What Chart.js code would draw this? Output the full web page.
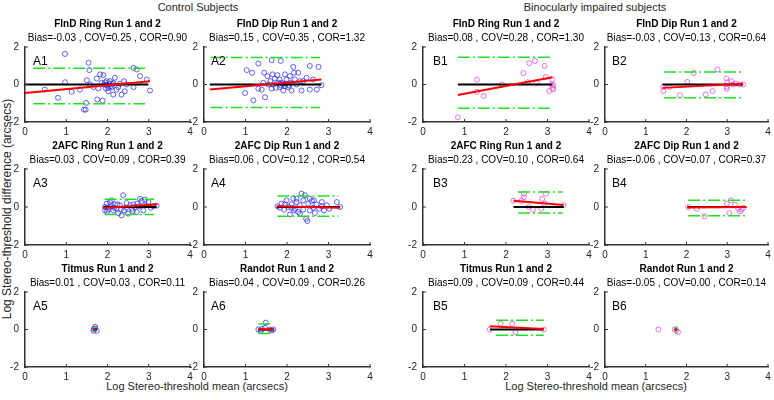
<!DOCTYPE html>
<html><head><meta charset="utf-8">
<script src="https://cdn.jsdelivr.net/npm/chart.js@4.4.1/dist/chart.umd.min.js"></script>
<style>
html,body{margin:0;padding:0;background:#fff;width:774px;height:400px;overflow:hidden;position:relative;font-family:"Liberation Sans",Arial,sans-serif;}
canvas{position:absolute;}
.lbl{position:absolute;white-space:nowrap;color:#262626;font-size:11px;line-height:13px;}
</style></head><body>
<div class="lbl" style="left:198px;top:1px;transform:translateX(-50%)">Control Subjects</div>
<div class="lbl" style="left:595px;top:1px;transform:translateX(-50%)">Binocularly impaired subjects</div>
<div class="lbl" style="left:197px;top:380px;transform:translateX(-50%)">Log Stereo-threshold mean (arcsecs)</div>
<div class="lbl" style="left:596px;top:380px;transform:translateX(-50%)">Log Stereo-threshold mean (arcsecs)</div>
<div class="lbl" style="left:7px;top:209px;font-size:12px;line-height:14px;transform:translate(-50%,-50%) rotate(-90deg)">Log Stereo-threshold difference (arcsecs)</div>
<script>
// ---------- DATA ----------
const panelIds = ['A1','A2','B1','B2','A3','A4','B3','B4','A5','A6','B5','B6'];
const panelTitles = ['FInD Ring Run 1 and 2','FInD Dip Run 1 and 2','FInD Ring Run 1 and 2','FInD Dip Run 1 and 2',
  '2AFC Ring Run 1 and 2','2AFC Dip Run 1 and 2','2AFC Ring Run 1 and 2','2AFC Dip Run 1 and 2',
  'Titmus Run 1 and 2','Randot Run 1 and 2','Titmus Run 1 and 2','Randot Run 1 and 2'];
const panelStats = ['Bias=-0.03 , COV=0.25 , COR=0.90','Bias=0.15 , COV=0.35 , COR=1.32',
  'Bias=0.08 , COV=0.28 , COR=1.30','Bias=-0.03 , COV=0.13 , COR=0.64',
  'Bias=0.03 , COV=0.09 , COR=0.39','Bias=0.06 , COV=0.12 , COR=0.54',
  'Bias=0.23 , COV=0.10 , COR=0.64','Bias=-0.06 , COV=0.07 , COR=0.37',
  'Bias=0.01 , COV=0.03 , COR=0.11','Bias=0.04 , COV=0.09 , COR=0.26',
  'Bias=0.09 , COV=0.09 , COR=0.44','Bias=-0.05 , COV=0.00 , COR=0.14'];
const xTicks = [0,1,2,3,4];
const yTicks = [-2,0,2];

const a1X = [0.97,1.54,1.56,0.97,0.48,0.80,1.13,1.33,1.50,1.48,1.43,1.47,1.75,1.88,1.74,1.82,1.90,1.98,2.06,2.14,2.18,1.92,2.63,2.71,2.79,2.95,3.03,2.42,2.34,2.14,2.22,2.63,1.78,1.58,1.66,2.02,1.96,2.10,1.86,2.26,2.30,2.40,2.46,2.00,2.04,2.08,1.94,2.12,2.02,1.98];
const a1Y = [1.63,1.16,0.77,0.12,-0.27,-0.71,-0.39,-0.27,0.23,-0.98,-1.34,-1.34,-0.80,-0.86,0.32,0.54,0.50,0.18,0.18,0.09,0.36,0.00,0.89,0.80,0.45,0.27,-0.32,-0.36,-0.54,-0.54,-0.27,-0.14,-0.21,0.00,-0.14,-0.36,-0.21,-0.14,0.09,-0.14,0.04,0.18,0.00,-0.05,0.05,-0.09,0.12,0.02,-0.18,-0.02];
const a2X = [1.03,1.16,1.31,1.63,1.85,1.45,1.53,0.99,1.19,1.47,1.31,1.39,1.43,1.60,1.67,1.71,1.77,1.82,1.87,1.95,1.99,2.07,2.17,2.15,2.27,2.31,2.39,2.47,2.55,2.76,2.72,2.55,2.83,2.35,2.11,1.91,1.73,1.63,1.55,1.83,2.03,2.23,2.19,1.79,1.65,1.95,2.63,1.90,1.98,2.05,1.86,2.10];
const a2Y = [0.77,0.63,1.12,1.30,1.26,0.63,0.45,-0.45,-0.85,-0.68,-0.22,-0.27,0.09,0.18,0.00,0.32,0.50,0.27,0.09,-0.09,0.27,0.45,0.63,0.94,0.63,0.18,0.18,0.36,0.99,0.94,-0.27,-0.27,-0.04,-0.32,-0.32,-0.32,-0.18,-0.22,0.00,-0.14,-0.14,0.00,0.27,0.09,0.54,0.54,0.27,0.02,0.05,-0.05,-0.05,0.10];
const b1X = [0.84,1.30,1.30,1.46,1.90,2.42,2.56,2.70,2.93,2.96,3.12,2.52,2.74,3.04,3.12,3.14,3.10,3.14];
const b1Y = [-1.75,0.26,-0.39,-0.61,0.00,0.61,1.14,1.26,1.00,0.40,0.26,0.12,0.09,-0.35,-0.18,-0.05,0.00,-0.26];
const b2X = [1.43,1.43,1.59,1.84,2.02,2.18,2.47,2.64,2.76,2.98,3.00,3.10,2.99,2.99,3.21,3.31,3.39,3.14];
const b2Y = [-0.35,-0.12,-0.12,-0.57,0.14,0.62,-0.53,-0.35,0.80,0.32,0.12,0.18,-0.23,-0.12,0.05,0.00,0.00,0.00];
const a3X = [2.38,1.94,1.98,2.02,2.06,2.10,2.14,2.18,2.22,2.26,2.30,2.34,2.40,2.45,2.50,2.55,2.61,2.67,2.72,2.79,2.83,2.87,2.93,2.99,3.05,3.11,3.19,1.94,1.99,2.10,2.16,2.24,2.32,2.63,2.71,2.59,2.77,2.91,2.46,2.04];
const a3Y = [0.62,0.00,0.18,-0.14,0.26,0.04,-0.18,0.14,-0.09,-0.32,0.09,-0.44,-0.18,-0.04,-0.35,0.09,-0.21,0.00,0.18,0.44,0.32,-0.18,0.09,0.26,-0.04,0.04,0.07,-0.18,-0.26,0.35,-0.04,0.14,-0.14,0.14,-0.26,-0.09,0.04,0.39,0.21,0.00];
const a4X = [1.77,1.87,1.93,1.99,2.03,2.07,2.11,2.15,2.19,2.23,2.27,2.31,2.35,2.39,2.43,2.46,2.49,2.51,2.55,2.60,2.63,2.67,2.71,2.78,2.84,2.89,2.96,3.02,3.20,3.28,2.23,1.95,1.83,2.39,2.55,2.17,2.31,2.65,2.84,2.11];
const a4Y = [0.04,0.18,-0.14,0.35,0.00,-0.39,0.14,0.44,-0.09,0.26,-0.26,0.09,0.70,0.35,0.62,-0.62,-0.74,0.18,-0.18,0.32,-0.04,-0.32,0.14,-0.09,0.26,-0.18,0.09,-0.09,0.26,0.00,0.44,0.14,-0.04,-0.14,0.44,-0.18,-0.35,0.35,0.04,-0.04];
const b3X = [2.18,2.37,2.43,2.43,2.55,2.65,2.85,2.87,2.93,2.96,3.39];
const b3Y = [0.33,0.33,0.70,0.51,0.00,-0.14,-0.09,0.42,0.18,0.70,0.10];
const b4X = [2.04,2.25,2.44,2.99,3.09,3.05,3.19,3.31,3.35,3.39,3.27];
const b4Y = [0.00,-0.10,-0.49,0.18,0.35,-0.32,0.12,-0.23,-0.14,-0.05,-0.10];
const a5X = [1.67,1.70,1.74,1.66,1.70];
const a5Y = [0.02,0.14,-0.07,-0.07,0.05];
const a6X = [1.31,1.37,1.47,1.49,1.59,1.67,1.63,1.40];
const a6Y = [0.00,-0.07,0.09,0.37,0.00,0.00,-0.05,0.03];
const b5X = [1.61,1.87,2.15,2.23,2.91];
const b5Y = [0.00,0.31,0.31,-0.14,0.00];
const b6X = [1.31,1.71,1.75,1.79];
const b6Y = [0.00,0.00,-0.03,-0.14];

const pointsX = [a1X,a2X,b1X,b2X,a3X,a4X,b3X,b4X,a5X,a6X,b5X,b6X];
const pointsY = [a1Y,a2Y,b1Y,b2Y,a3Y,a4Y,b3Y,b4Y,a5Y,a6Y,b5Y,b6Y];
// zero (mean) line extent [xStart, xEnd]
const zeroLineX = [[0,2.99],[0.14,2.83],[0.84,3.12],[1.41,3.39],[1.90,3.19],[1.75,3.28],[2.18,3.39],[2.02,3.47],[1.66,1.74],[1.31,1.69],[1.61,2.91],[1.71,1.77]];
// regression line [x0,y0,x1,y1]
const fitLine = [[0,-0.45,3.03,0.17],[0.14,-0.27,2.83,0.27],[0.84,-0.56,3.12,0.39],[1.41,-0.18,3.39,0.04],
  [1.90,-0.05,3.21,0.14],[1.75,0.04,3.28,-0.04],[2.18,0.33,3.39,0.10],[2.02,-0.02,3.47,0.00],
  [1.66,-0.02,1.74,0.03],[1.31,0.00,1.69,0.01],[1.61,0.17,2.91,0.03],[1.71,0.00,1.77,-0.02]];
// limits of agreement
const loaUpper = [0.87,1.44,1.46,0.67,0.41,0.58,0.79,0.35,0.10,0.30,0.49,0.12];
const loaLower = [-1.03,-1.22,-1.26,-0.71,-0.39,-0.49,-0.32,-0.46,-0.08,-0.21,-0.31,-0.17];
const loaX = [[0.2,2.95],[0.16,2.80],[0.84,3.12],[1.45,3.35],[1.93,3.13],[1.77,3.24],[2.29,3.37],[2.04,3.45],[1.66,1.74],[1.31,1.67],[1.76,2.91],[1.72,1.78]];

// ---------- LAYOUT ----------
const colLeft = [25,204,423,605], colRight = [190,370,589,768];
const rowTop = [47,169,292], rowBottom = [122,245,367];
const labelOffset = [8,7,10,7];
const FONT = '"Liberation Sans", Arial, Helvetica, sans-serif';
Chart.defaults.font.family = FONT;

const deco = {
  id: 'deco',
  afterDraw(chart, args, opts) {
    const {ctx, chartArea: a, scales: {x, y}} = chart;
    ctx.save();
    ctx.strokeStyle = '#333'; ctx.lineWidth = 1;
    ctx.beginPath();
    x.ticks.forEach(t => { const px = x.getPixelForValue(t.value); ctx.moveTo(px, a.bottom); ctx.lineTo(px, a.bottom - 3); });
    y.ticks.forEach(t => { const py = y.getPixelForValue(t.value); ctx.moveTo(a.left, py); ctx.lineTo(a.left + 3, py); });
    ctx.stroke();
    ctx.fillStyle = '#000';
    ctx.font = '12px ' + FONT;
    ctx.textBaseline = 'middle'; ctx.textAlign = 'left';
    ctx.fillText(opts.label, a.left + opts.offset, a.top + 15);
    ctx.restore();
  }
};

panelIds.forEach((id, i) => {
  const c = i % 4, r = Math.floor(i / 4);
  const isB = c >= 2;
  const W = colRight[c] - colLeft[c] + 25 + 6;
  const H = rowBottom[r] - rowTop[r] + 32 + 22;
  const cv = document.createElement('canvas');
  cv.width = W; cv.height = H;
  cv.style.left = (colLeft[c] - 25) + 'px'; cv.style.top = (rowTop[r] - 32) + 'px';
  cv.style.width = W + 'px'; cv.style.height = H + 'px';
  document.body.appendChild(cv);
  const pts = pointsX[i].map((v, k) => ({x: v, y: pointsY[i][k]}));
  const f = fitLine[i];
  const green = '#22e022';
  const lineDs = (data, color, width, order, dash) => ({type: 'line', data, borderColor: color, borderWidth: width,
    pointRadius: 0, fill: false, order, borderDash: dash || [], tension: 0});
  new Chart(cv, {
    type: 'scatter',
    data: {datasets: [
      {data: pts, pointStyle: 'circle', pointRadius: 2.5, backgroundColor: 'rgba(0,0,0,0)',
        borderColor: isB ? '#e050e0' : '#3a3af0', borderWidth: 0.8, order: 5},
      lineDs([{x: loaX[i][0], y: loaUpper[i]}, {x: loaX[i][1], y: loaUpper[i]}], green, 1.5, 4, [12,3,2,3]),
      lineDs([{x: loaX[i][0], y: loaLower[i]}, {x: loaX[i][1], y: loaLower[i]}], green, 1.5, 4, [12,3,2,3]),
      lineDs([{x: zeroLineX[i][0], y: 0}, {x: zeroLineX[i][1], y: 0}], '#000', 2, 2),
      lineDs([{x: f[0], y: f[1]}, {x: f[2], y: f[3]}], '#ff0000', 2, 1)
    ]},
    options: {
      responsive: false, animation: false, devicePixelRatio: 1,
      layout: {padding: {left: 0, right: 6, top: 0, bottom: 0}},
      plugins: {
        legend: {display: false}, tooltip: {enabled: false},
        title: {display: true, text: panelTitles[i], color: '#000', fullSize: false,
          font: {size: 10, weight: 'bold', lineHeight: '14px'}, padding: {top: 2, bottom: 0}},
        subtitle: {display: true, text: panelStats[i], color: '#000', fullSize: false,
          font: {size: 10, weight: 'normal', lineHeight: '14px'}, padding: {top: 0, bottom: 2}},
        deco: {label: id, offset: labelOffset[c]}
      },
      scales: {
        x: {type: 'linear', min: 0, max: 4,
          afterBuildTicks: s => { s.ticks = xTicks.map(v => ({value: v})); },
          ticks: {color: '#262626', font: {size: 10}, padding: 4, maxRotation: 0, autoSkip: false},
          grid: {display: false, drawTicks: false},
          border: {display: true, color: '#333', width: 1.5},
          afterFit: s => { s.height = 22; s.paddingLeft = 0; s.paddingRight = 0; }
        },
        y: {type: 'linear', min: -2, max: 2,
          afterBuildTicks: s => { s.ticks = yTicks.map(v => ({value: v})); },
          ticks: {color: '#262626', font: {size: 10}, padding: 6, autoSkip: false},
          grid: {display: false, drawTicks: false},
          border: {display: true, color: '#333', width: 1.5},
          afterFit: s => { s.width = 25; s.paddingTop = 0; s.paddingBottom = 0; }
        }
      }
    },
    plugins: [deco]
  });
});
</script>
</body></html>
